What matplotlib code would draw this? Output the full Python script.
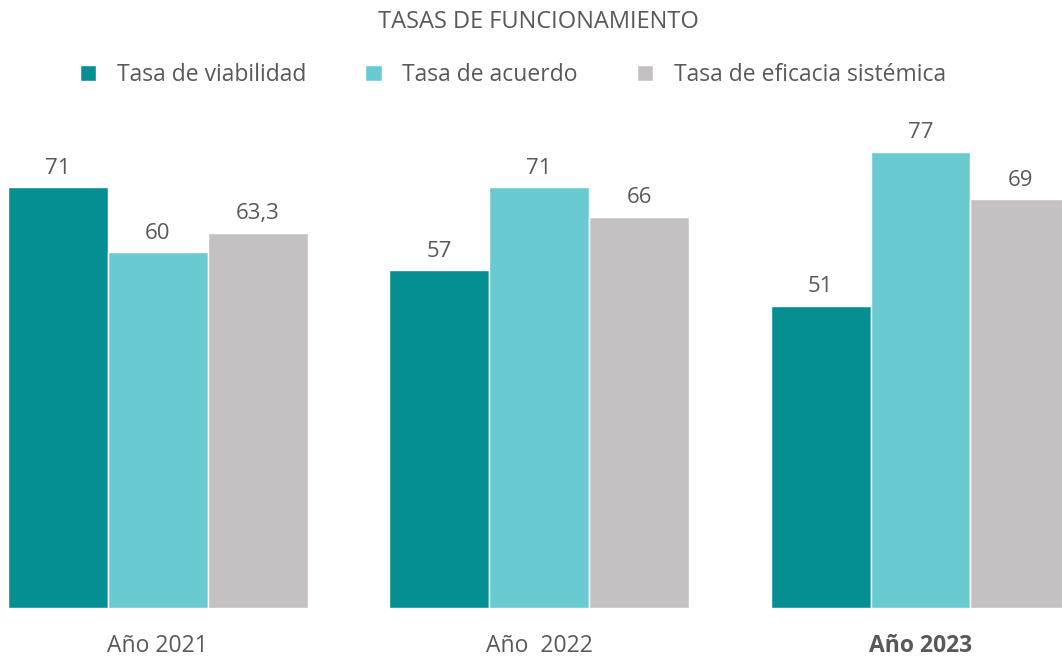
import matplotlib.pyplot as plt
import numpy as np

# data
categories = ['Año 2021', 'Año  2022', 'Año 2023']
series = ['Tasa de viabilidad', 'Tasa de acuerdo', 'Tasa de eficacia sistémica']
viabilidad = [71, 57, 51]
acuerdo = [60, 71, 77]
eficacia = [63.3, 66, 69]
colors = ['#068F93', '#6ACAD1', '#C5C1C2']

plt.rcParams['font.family'] = ['Open Sans', 'DejaVu Sans']
txt = '#595959'

fig = plt.figure(figsize=(10.62, 6.59), dpi=100)
ax = fig.add_axes([8 / 1062, 51 / 659, 1 - 8 / 1062, 508 / 659])

x = np.arange(len(categories))
w = 0.262
for i, (vals, name) in enumerate(zip([viabilidad, acuerdo, eficacia], series)):
    bars = ax.bar(x + (i - 1) * w, vals, w, color=colors[i], edgecolor='white',
                  linewidth=1, label=name)
    for b, v in zip(bars, vals):
        lab = str(v).replace('.', ',')
        ax.annotate(lab, (b.get_x() + b.get_width() / 2, v), xytext=(0, 6),
                    textcoords='offset points', ha='center', va='bottom',
                    fontsize=16, color=txt)

ax.set_xlim(-0.393, 2.371)
ax.set_ylim(0, 85.7)
ax.set_xticks(x)
ax.set_xticklabels(categories, fontsize=16.5, color=txt)
ax.get_xticklabels()[2].set_fontweight('bold')
ax.tick_params(axis='x', length=0, pad=19)
ax.set_yticks([])
for s in ax.spines.values():
    s.set_visible(False)

fig.text(0.507, 0.966, 'TASAS DE FUNCIONAMIENTO', ha='center', va='center',
         fontsize=17, color=txt)
fig.legend(loc='center', bbox_to_anchor=(0.483, 0.886), ncol=3, frameon=False,
           fontsize=16.5, labelcolor=txt, handlelength=0.7, handleheight=0.7,
           handletextpad=0.9, columnspacing=2.6)

plt.savefig('out.png', dpi=100)
